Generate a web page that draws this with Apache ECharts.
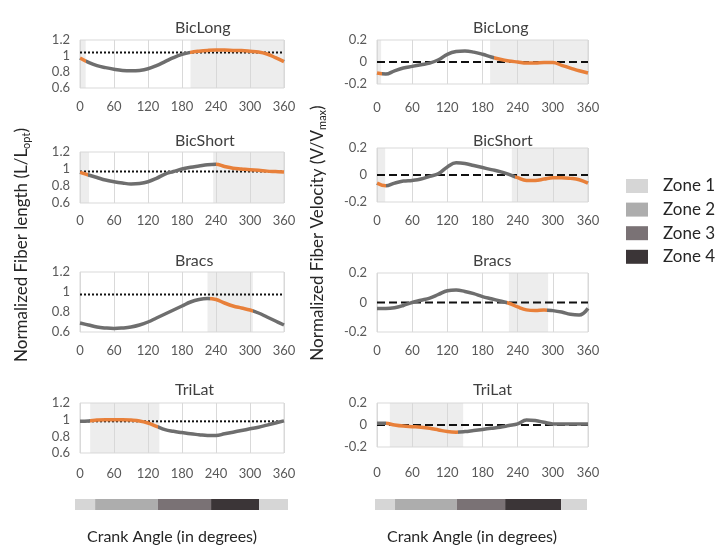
<!DOCTYPE html>
<html><head><meta charset="utf-8">
<script src="https://cdn.jsdelivr.net/npm/echarts@6/dist/echarts.min.js"></script>
<style>html,body{margin:0;padding:0;background:#fff}#c{width:721px;height:547px}</style>
</head><body><div id="c"></div>
<script>
const angles = [0,15,30,45,60,75,90,105,120,135,150,165,180,195,210,225,240,255,270,285,300,315,330,345,360];
const xTicks = [0,60,120,180,240,300,360];
const muscles = ['BicLong','BicShort','Bracs','TriLat'];

// Normalized fiber length (L/Lopt)
const lenBicLong  = [0.975,0.92,0.88,0.855,0.835,0.82,0.815,0.82,0.84,0.88,0.93,0.98,1.02,1.045,1.06,1.07,1.075,1.075,1.07,1.068,1.06,1.05,1.025,0.98,0.93];
const lenBicShort = [0.96,0.93,0.9,0.87,0.85,0.835,0.825,0.83,0.85,0.89,0.94,0.97,1.0,1.02,1.035,1.05,1.055,1.03,1.01,1.0,0.99,0.985,0.975,0.97,0.965];
const lenBracs    = [0.69,0.67,0.65,0.64,0.635,0.64,0.65,0.67,0.7,0.74,0.78,0.82,0.86,0.9,0.925,0.935,0.925,0.89,0.86,0.84,0.82,0.79,0.75,0.71,0.67];
const lenTriLat   = [0.98,0.985,0.995,1.0,1.0,1.0,0.995,0.985,0.96,0.92,0.88,0.86,0.845,0.83,0.82,0.81,0.81,0.83,0.85,0.87,0.89,0.91,0.935,0.96,0.985];
const lenRef      = [1.045,0.97,0.975,0.98];

// Normalized fiber velocity (V/Vmax)
const velBicLong  = [-0.1,-0.11,-0.08,-0.055,-0.04,-0.025,-0.01,0.02,0.07,0.095,0.1,0.09,0.07,0.045,0.025,0.01,0.0,-0.01,-0.01,-0.005,-0.005,-0.03,-0.055,-0.08,-0.1];
const velBicShort = [-0.06,-0.08,-0.06,-0.045,-0.04,-0.03,-0.01,0.01,0.06,0.09,0.085,0.07,0.055,0.04,0.025,0.005,-0.02,-0.04,-0.04,-0.03,-0.02,-0.02,-0.025,-0.035,-0.06];
const velBracs    = [-0.04,-0.04,-0.035,-0.02,0.0,0.015,0.03,0.055,0.08,0.085,0.075,0.06,0.04,0.025,0.01,-0.005,-0.03,-0.05,-0.055,-0.05,-0.055,-0.065,-0.08,-0.085,-0.04];
const velTriLat   = [0.015,0.015,0.0,-0.01,-0.015,-0.02,-0.03,-0.045,-0.06,-0.065,-0.06,-0.05,-0.04,-0.03,-0.02,-0.005,0.01,0.045,0.04,0.025,0.01,0.01,0.01,0.01,0.01];
const velRef      = [0,0,0,0];

// highlighted (orange) angle ranges and shaded angle ranges
const lenHighlight = [[[0,10],[195,360]], [[0,15],[240,360]], [[230,305]], [[18,137]]];
const lenShade     = [[[0,10],[195,360]], [[0,16],[235,360]], [[225,305]], [[18,140]]];
const velHighlight = [[[0,8],[200,360]], [[0,15],[235,360]], [[222,290]], [[15,138]]];
const velShade     = [[[0,7],[193,360]], [[0,14],[230,360]], [[225,292]], [[22,147]]];

// crank angle zone bars
const zoneNames = ['Zone 1','Zone 2','Zone 3','Zone 4'];
const zoneSeq = [1,2,3,4,1];
const leftZoneBounds  = [0,34,140,230,311,360];
const rightZoneBounds = [0,34,139,221,316,360];

const ORANGE = '#e8803a', GRAY = '#6e6e6e';
const zoneColors = ['#d6d6d6','#adadad','#7a7275','#3b3537'];
const FONT = 'Lato, "Open Sans", sans-serif';

const lenData = [lenBicLong,lenBicShort,lenBracs,lenTriLat];
const velData = [velBicLong,velBicShort,velBracs,velTriLat];

const leftGeo  = [[40,48,12],[152,51,11],[272,60,12],[403,50,14]];
const rightGeo = [[40,44,17],[148,54,12],[273,59,12],[403,44,19]];
const titleY = [20,133,253,382];

const grids=[], xAxes=[], yAxes=[], series=[], visualMaps=[];
function addPanel(idx, left, width, geo, ymin, ymax, vals, ref, hl, shade, dashType){
  grids.push({left:left, top:geo[0], width:width, height:geo[1], show:true, borderColor:'#d9d9d9', borderWidth:1, backgroundColor:'#fff'});
  xAxes.push({type:'value', gridIndex:idx, min:0, max:360, interval:60,
    axisLine:{show:false}, axisTick:{show:false},
    axisLabel:{color:'#595959', fontSize:13, fontFamily:FONT, margin:geo[2]},
    splitLine:{show:true, lineStyle:{color:'#d9d9d9', width:1}}});
  yAxes.push({type:'value', gridIndex:idx, min:ymin, max:ymax, interval:0.2,
    axisLine:{show:false}, axisTick:{show:false}, splitLine:{show:false},
    axisLabel:{color:'#595959', fontSize:13, fontFamily:FONT, margin:10,
      formatter:v=>String(Math.round(v*10)/10)}});
  series.push({type:'line', xAxisIndex:idx, yAxisIndex:idx, data:[[0,ref],[360,ref]],
    symbol:'none', silent:true, z:3,
    lineStyle:{color:'#111', width:2, type:dashType},
    markArea:{silent:true, itemStyle:{color:'rgba(215,215,215,0.45)'},
      data: shade.map(r=>[{xAxis:r[0]},{xAxis:r[1]}])}});
  const sIdx = series.length;
  series.push({type:'line', xAxisIndex:idx, yAxisIndex:idx, data:angles.map((a,i)=>[a,vals[i]]),
    smooth:0.4, symbol:'none', z:4, lineStyle:{width:3.5}});
  visualMaps.push({type:'piecewise', show:false, seriesIndex:sIdx, dimension:0,
    pieces: hl.map(r=>({gte:r[0], lte:r[1], color:ORANGE})), outOfRange:{color:GRAY}});
}
for(let i=0;i<4;i++){
  addPanel(grids.length, 80, 204, leftGeo[i], 0.6, 1.2, lenData[i], lenRef[i], lenHighlight[i], lenShade[i], 'dotted');
  addPanel(grids.length, 377, 211, rightGeo[i], -0.2, 0.2, velData[i], velRef[i], velHighlight[i], velShade[i], 'dashed');
}
// zone bars
function addZoneBar(left, width, bounds){
  const idx = grids.length;
  grids.push({left:left, top:499, width:width, height:11});
  xAxes.push({type:'value', gridIndex:idx, min:0, max:360, show:false});
  yAxes.push({type:'value', gridIndex:idx, min:0, max:1, show:false});
  series.push({type:'custom', xAxisIndex:idx, yAxisIndex:idx,
    data: zoneSeq.map((z,i)=>[bounds[i], bounds[i+1], z]),
    renderItem:(params, api)=>{
      const p0 = api.coord([api.value(0),1]);
      const p1 = api.coord([api.value(1),0]);
      return {type:'rect', shape:{x:p0[0], y:p0[1], width:p1[0]-p0[0], height:p1[1]-p0[1]},
        style:{fill: zoneColors[api.value(2)-1]}};
    }});
}
addZoneBar(75, 213, leftZoneBounds);
addZoneBar(375, 212, rightZoneBounds);

const graphics = [];
muscles.forEach((m,i)=>{
  graphics.push({type:'text', left:175, top:titleY[i], style:{text:m, font:'16px '+FONT, fill:'#404040', textAlign:'center', textVerticalAlign:'middle'}});
  graphics.push({type:'text', left:473, top:titleY[i], style:{text:m, font:'16px '+FONT, fill:'#404040', textAlign:'center', textVerticalAlign:'middle'}});
});
graphics.push({type:'text', x:22, y:245, rotation:Math.PI/2, style:{
  text:'{a|Normalized Fiber length (L/L}{s|opt}{a|)}', textAlign:'center', textVerticalAlign:'middle',
  rich:{a:{font:'17px '+FONT, fill:'#262626'}, s:{font:'11px '+FONT, fill:'#262626', padding:[8,0,0,0]}}}});
graphics.push({type:'text', x:318, y:233, rotation:Math.PI/2, style:{
  text:'{a|Normalized Fiber Velocity (V/V}{s|max}{a|)}', textAlign:'center', textVerticalAlign:'middle',
  rich:{a:{font:'17px '+FONT, fill:'#262626'}, s:{font:'11px '+FONT, fill:'#262626', padding:[8,0,0,0]}}}});
graphics.push({type:'text', x:172, y:537, style:{text:'Crank Angle (in degrees)', font:'16px '+FONT, fill:'#262626', textAlign:'center', textVerticalAlign:'middle'}});
graphics.push({type:'text', x:472, y:537, style:{text:'Crank Angle (in degrees)', font:'16px '+FONT, fill:'#262626', textAlign:'center', textVerticalAlign:'middle'}});
zoneNames.forEach((z,i)=>{
  const cy = 186 + i*23.6;
  graphics.push({type:'rect', shape:{x:626, y:cy-7, width:22, height:14}, style:{fill:zoneColors[i]}});
  graphics.push({type:'text', x:663, y:cy, style:{text:z, font:'17px '+FONT, fill:'#262626', textVerticalAlign:'middle'}});
});

const chart = echarts.init(document.getElementById('c'), null, {renderer:'canvas'});
chart.setOption({animation:false, backgroundColor:'#fff', grid:grids, xAxis:xAxes, yAxis:yAxes,
  visualMap:visualMaps, series:series, graphic:graphics});
</script></body></html>
